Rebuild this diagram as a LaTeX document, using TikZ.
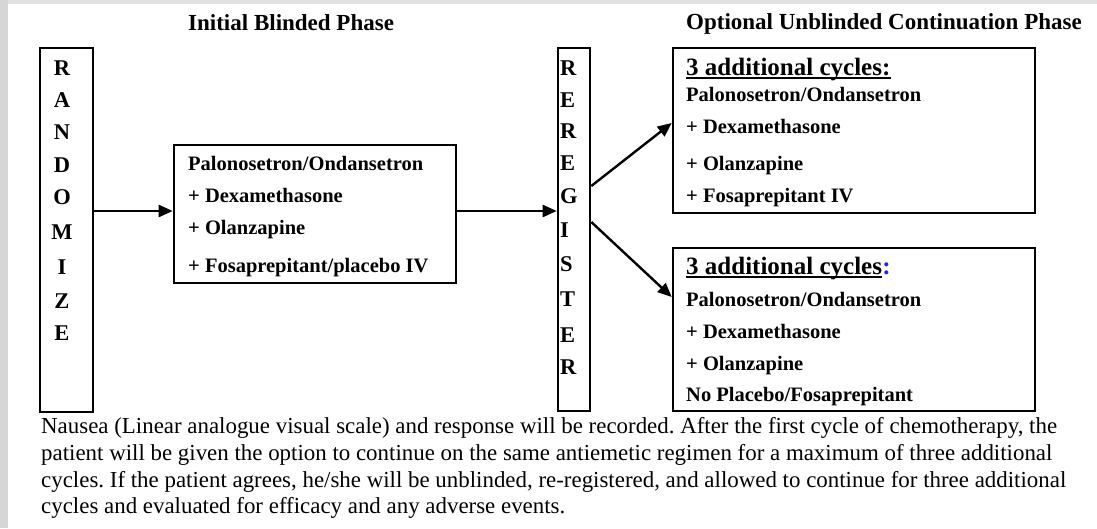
\documentclass[tikz,border=0pt]{standalone}
\usepackage{fontspec}
\setmainfont{Liberation Serif}
\usetikzlibrary{arrows.meta,calc}
\definecolor{edgegray}{RGB}{214,214,214}
\definecolor{topgray}{RGB}{226,226,226}
\definecolor{colonblue}{RGB}{30,30,255}
\frenchspacing
\begin{document}
\begin{tikzpicture}[x=1pt,y=-1pt,
  box/.style={draw, line width=2.6pt, rectangle, inner sep=0pt},
  arr/.style={line width=2.4pt, -{Triangle[length=14pt,width=12pt]}},
  lbl/.style={font=\fontsize{20.5}{24}\selectfont\bfseries, anchor=base west, inner sep=0pt},
  head/.style={font=\fontsize{25}{30}\selectfont\bfseries, anchor=base west, inner sep=0pt},
  ttl/.style={font=\fontsize{23}{27}\selectfont\bfseries, anchor=base west, inner sep=0pt},
  body/.style={font=\fontsize{22.9}{27}\selectfont, anchor=base west, inner sep=0pt},
  letter/.style={font=\fontsize{22.5}{26}\selectfont\bfseries, inner sep=0pt},
  uline/.style={line width=1.6pt}
]
\useasboundingbox (0,0) rectangle (1097,528);
\fill[topgray] (0,0) rectangle (1097,528);
\fill[edgegray] (0,0) rectangle (8,528);
\fill[white] (8,4) rectangle (1097,528);

% titles
\node[ttl] (t1) at (188,30) {Initial Blinded Phase};
\node[ttl] (t2) at (686,29) {Optional Unblinded Continuation Phase};

% boxes
\node[box, minimum width=53pt, minimum height=364pt] (rand) at (66.5,230) {};
\node[box, minimum width=282pt, minimum height=138pt] (cbox) at (315,214) {};
\node[box, minimum width=32pt, minimum height=363pt] (reg) at (574,229.5) {};
\node[box, minimum width=362pt, minimum height=165pt] (tbox) at (854,130.5) {};
\node[box, minimum width=362pt, minimum height=163pt] (bbox) at (854,329.5) {};

% RANDOMIZE letters
\node[letter] (r1) at (62,68) {R};
\node[letter] (r2) at (62,100) {A};
\node[letter] (r3) at (62,132) {N};
\node[letter] (r4) at (62,165) {D};
\node[letter] (r5) at (62,197) {O};
\node[letter] (r6) at (62,232) {M};
\node[letter] (r7) at (62,267) {I};
\node[letter] (r8) at (62,301) {Z};
\node[letter] (r9) at (62,333) {E};

% REGISTER letters
\node[letter, anchor=west] (g1) at (560,68) {R};
\node[letter, anchor=west] (g2) at (560,100) {E};
\node[letter, anchor=west] (g3) at (560,131) {R};
\node[letter, anchor=west] (g4) at (560,163) {E};
\node[letter, anchor=west] (g5) at (560,196) {G};
\node[letter, anchor=west] (g6) at (560,230) {I};
\node[letter, anchor=west] (g7) at (560,264) {S};
\node[letter, anchor=west] (g8) at (560,299) {T};
\node[letter, anchor=west] (g9) at (560,335) {E};
\node[letter, anchor=west] (g10) at (560,367) {R};

% centre box text
\node[lbl] (c1) at (188,170) {Palonosetron/Ondansetron};
\node[lbl] (c2) at (188,202) {+ Dexamethasone};
\node[lbl] (c3) at (188,234) {+ Olanzapine};
\node[lbl] (c4) at (188,272) {+ Fosaprepitant/placebo IV};

% top right box text
\node[head] (h1) at (686,75) {3 additional cycles:};
\draw[uline] ($(h1.base west)+(0,3)$) -- ($(h1.base east)+(0,3)$);
\node[lbl] (a1) at (686,101) {Palonosetron/Ondansetron};
\node[lbl] (a2) at (686,133) {+ Dexamethasone};
\node[lbl] (a3) at (686,170) {+ Olanzapine};
\node[lbl] (a4) at (686,202) {+ Fosaprepitant IV};

% bottom right box text
\node[head] (h2) at (686,274) {3 additional cycles};
\node[head, text=colonblue] (h2c) at (h2.base east) {:};
\draw[uline] ($(h2.base west)+(0,3)$) -- ($(h2.base east)+(0,3)$);
\node[lbl] (b1) at (686,306) {Palonosetron/Ondansetron};
\node[lbl] (b2) at (686,338) {+ Dexamethasone};
\node[lbl] (b3) at (686,370) {+ Olanzapine};
\node[lbl] (b4) at (686,401) {No Placebo/Fosaprepitant};

% arrows
\draw[arr] (rand.east |- 0,211) -- (cbox.west |- 0,211);
\draw[arr] (cbox.east |- 0,211) -- (reg.west |- 0,211);
\draw[arr] (reg.east |- 0,186) -- (tbox.west |- 0,123);
\draw[arr] (reg.east |- 0,222) -- (bbox.west |- 0,297);

% caption
\node[body] (p1) at (41,433) {Nausea (Linear analogue visual scale) and response will be recorded. After the first cycle of chemotherapy, the};
\node[body] (p2) at (41,460) {patient will be given the option to continue on the same antiemetic regimen for a maximum of three additional};
\node[body] (p3) at (41,487) {cycles. If the patient agrees, he/she will be unblinded, re-registered, and allowed to continue for three additional};
\node[body] (p4) at (41,513) {cycles and evaluated for efficacy and any adverse events.};
\end{tikzpicture}
\end{document}
